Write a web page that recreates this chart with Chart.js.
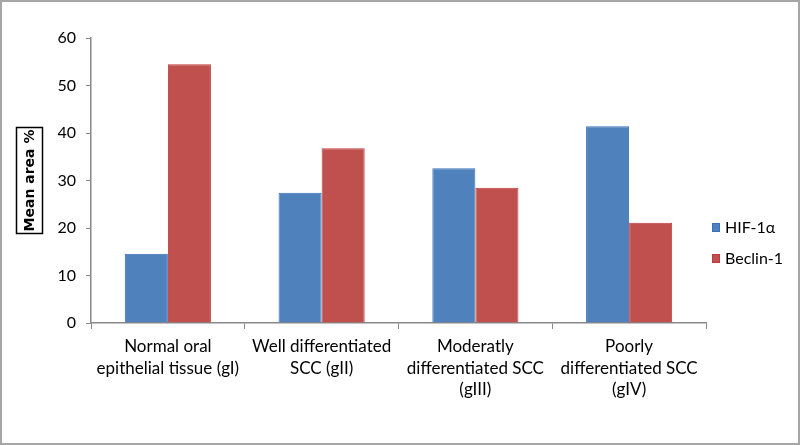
<!DOCTYPE html>
<html>
<head>
<meta charset="utf-8">
<script src="https://cdn.jsdelivr.net/npm/chart.js@4/dist/chart.umd.min.js"></script>
<style>
  html, body { margin: 0; padding: 0; background: #fff; }
  #wrap { position: relative; width: 800px; height: 445px; }
  #frame { position: absolute; left: 0; top: 0; width: 800px; height: 445px; box-sizing: border-box; border: 2px solid #a6a6a6; pointer-events: none; }
  canvas { position: absolute; left: 0; top: 0; }
</style>
</head>
<body>
<div id="wrap">
  <canvas id="chart" width="800" height="445"></canvas>
  <div id="frame"></div>
</div>
<script>
const categories = [
    ['Normal oral', 'epithelial tissue (gI)'],
    ['Well differentiated', 'SCC (gII)'],
    ['Moderatly', 'differentiated SCC', '(gIII)'],
    ['Poorly', 'differentiated SCC', '(gIV)']
];
const hifValues = [14.6, 27.4, 32.6, 41.4];
const beclinValues = [54.5, 36.8, 28.5, 21.1];
const yTicks = [0, 10, 20, 30, 40, 50, 60];
const yTitle = 'Mean area %';

const labelFont = "Lato, 'Liberation Sans', sans-serif";

// boxed, rotated axis title
const boxedTitle = {
    id: 'boxedTitle',
    afterDraw(chart) {
        const ctx = chart.ctx;
        const area = chart.chartArea;
        const cy = (area.top + area.bottom) / 2;
        ctx.save();
        ctx.strokeStyle = '#000';
        ctx.lineWidth = 1.5;
        ctx.strokeRect(16.5, cy - 53, 26, 106);
        ctx.translate(29.5, cy);
        ctx.rotate(-Math.PI / 2);
        ctx.fillStyle = '#000';
        ctx.font = "bold 14px 'DejaVu Sans', sans-serif";
        ctx.textAlign = 'center';
        ctx.textBaseline = 'middle';
        ctx.fillText(yTitle, 0, 1);
        ctx.restore();
    }
};

// legend to the right of the plot
const sideLegend = {
    id: 'sideLegend',
    afterDraw(chart) {
        const ctx = chart.ctx;
        const x = chart.chartArea.right + 6;
        let y = 228;
        ctx.save();
        chart.data.datasets.forEach(ds => {
            ctx.fillStyle = ds.backgroundColor;
            ctx.fillRect(x, y - 5, 8, 9);
            ctx.strokeStyle = ds.borderColor;
            ctx.lineWidth = 1;
            ctx.strokeRect(x + 0.5, y - 4.5, 7, 8);
            ctx.fillStyle = '#000';
            ctx.font = '16px ' + labelFont;
            ctx.textAlign = 'left';
            ctx.textBaseline = 'middle';
            ctx.fillText(ds.label, x + 13, y);
            y += 31;
        });
        ctx.restore();
    }
};

new Chart(document.getElementById('chart'), {
    type: 'bar',
    data: {
        labels: categories,
        datasets: [
            {
                label: 'HIF-1\u03b1',
                data: hifValues,
                backgroundColor: '#4f81bd',
                borderColor: '#3a70b8',
                borderWidth: 1
            },
            {
                label: 'Beclin-1',
                data: beclinValues,
                backgroundColor: '#c0504d',
                borderColor: '#c0393b',
                borderWidth: 1
            }
        ]
    },
    options: {
        responsive: false,
        animation: false,
        categoryPercentage: 0.56,
        barPercentage: 1.0,
        layout: { padding: { top: 38, right: 94, left: 0, bottom: 0 } },
        plugins: {
            legend: { display: false },
            tooltip: { enabled: false }
        },
        scales: {
            x: {
                grid: { drawOnChartArea: false, tickLength: 6, color: '#888' },
                border: { color: '#888', width: 1.5 },
                ticks: {
                    color: '#000',
                    padding: 7,
                    maxRotation: 0,
                    autoSkip: false,
                    font: { family: labelFont, size: 17, lineHeight: 1.27 }
                },
                afterFit(scale) { scale.height = 122; }
            },
            y: {
                min: 0,
                max: 60,
                afterBuildTicks(scale) { scale.ticks = yTicks.map(v => ({ value: v })); },
                grid: { drawOnChartArea: false, tickLength: 5, color: '#888' },
                border: { color: '#888', width: 1.5 },
                ticks: {
                    color: '#000',
                    padding: 10,
                    font: { family: labelFont, size: 16 }
                },
                afterFit(scale) { scale.width = 91; }
            }
        }
    },
    plugins: [boxedTitle, sideLegend]
});
</script>
</body>
</html>
